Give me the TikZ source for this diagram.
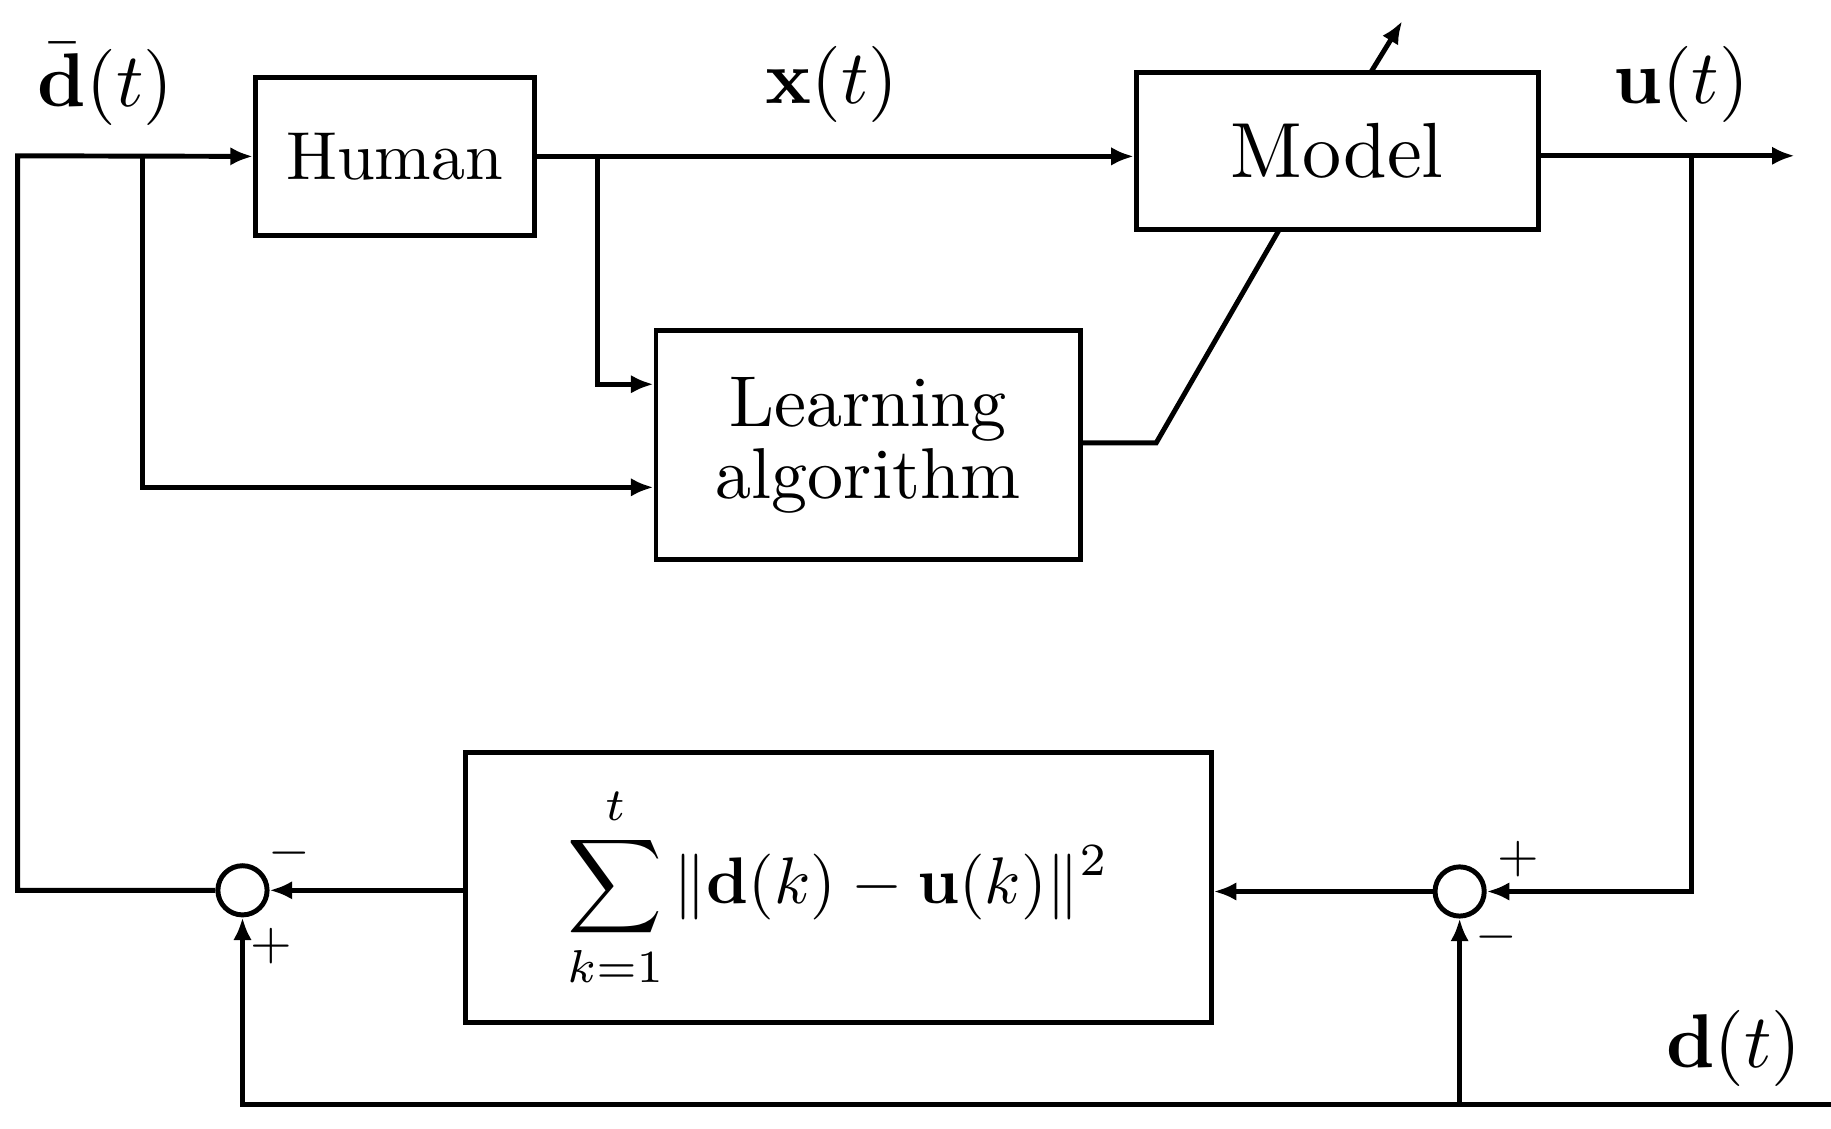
\documentclass[tikz,border=0pt]{standalone}
\usepackage{amsmath}
\usetikzlibrary{arrows.meta}
\newcommand{\bigsc}[2]{\scalebox{#1}{#2}}
\begin{document}
\begin{tikzpicture}[x=0.02cm,y=-0.02cm,line width=2.4pt,
  box/.style={draw,rectangle,inner sep=0pt},
  arr/.style={-{Latex[length=11pt,width=9pt]}},
  sumc/.style={draw,circle,minimum size=42*0.02cm,inner sep=0pt}]
\useasboundingbox (0,0) rectangle (1563,963);
\node[box,minimum width=238*0.02cm,minimum height=135*0.02cm] (hum) at (337,133.5) {\bigsc{3.3}{Human}};
\node[box,minimum width=343*0.02cm,minimum height=134*0.02cm] (mod) at (1141.5,129) {\bigsc{3.8}{Model}};
\node[box,minimum width=362*0.02cm,minimum height=196*0.02cm] (learn) at (741,380) {\bigsc{3.5}{\begin{tabular}{@{}c@{}}Learning\\[-2pt]algorithm\end{tabular}}};
\node[box,minimum width=637*0.02cm,minimum height=231*0.02cm] (sum) at (715.5,757.5) {\bigsc{3.2}{$\displaystyle\sum_{k=1}^{t}\|\mathbf{d}(k)-\mathbf{u}(k)\|^2$}};
\node[sumc] (cl) at (207,760) {};
\node[sumc] (cr) at (1246,761) {};
\coordinate (tl) at (15,133);
\coordinate (bl) at (15,760);
\coordinate (b1) at (122,133);
\coordinate (b2) at (510,133);
\coordinate (b3) at (1444,133);
\coordinate (uout) at (1532,133);
\coordinate (dend) at (1563,943);
\coordinate (db) at (1246,943);
\node (dbar) at (90,72) {\bigsc{3.7}{$\bar{\mathbf{d}}(t)$}};
\node (xl) at (710,72) {\bigsc{3.7}{$\mathbf{x}(t)$}};
\node (ul) at (1435,72) {\bigsc{3.7}{$\mathbf{u}(t)$}};
\node (dl) at (1480,895) {\bigsc{3.7}{$\mathbf{d}(t)$}};
\node (s1) at (247,728) {\bigsc{2.6}{$-$}};
\node (s2) at (232,808) {\bigsc{2.6}{$+$}};
\node (s3) at (1296,733) {\bigsc{2.6}{$+$}};
\node (s4) at (1277,800) {\bigsc{2.6}{$-$}};
\draw[arr] (cl.west) -- (bl) -- (tl) -- (hum.west);
\draw[arr] (b1) |- (learn.west |- 0,416);
\draw[arr] (hum.east) -- (mod.west |- hum.east);
\draw[arr] (b2) |- (learn.west |- 0,328);
\draw (learn.east |- 0,378) -- (987,378) -- (1092,196);
\coordinate (m1) at (1170,62); \coordinate (m2) at (1197,18);
\draw[arr] (m1) -- (m2);
\draw[arr] (mod.east |- 0,133) -- (uout);
\draw[arr] (b3) |- (cr.east);
\draw[arr] (cr.west) -- (sum.east |- cr.west);
\draw[arr] (sum.west |- cl.east) -- (cl.east);
\draw[arr] (dend) -- (207,943) -- (cl.south);
\draw[arr] (db) -- (cr.south);
\end{tikzpicture}
\end{document}
